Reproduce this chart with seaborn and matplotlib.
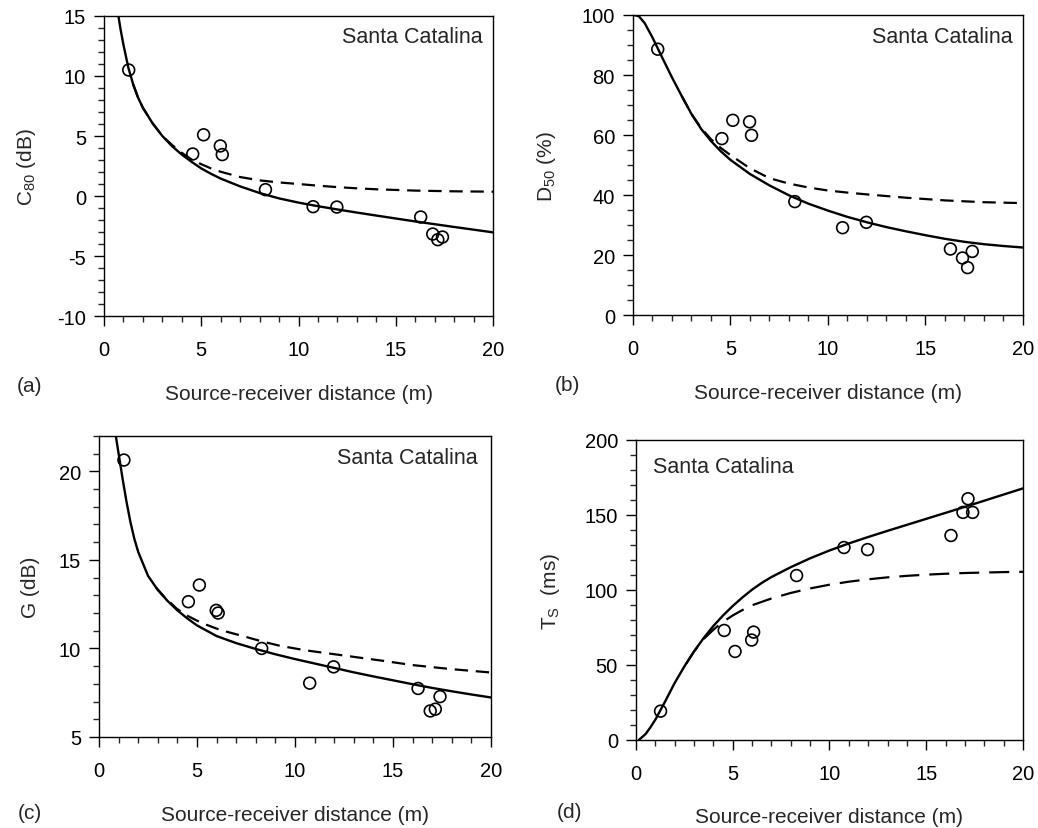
import matplotlib
matplotlib.use('Agg')
import matplotlib.pyplot as plt
from matplotlib.ticker import MultipleLocator
import seaborn as sns

# Measured points (same receiver positions in every panel)
dist = [1.27, 4.56, 5.12, 5.98, 6.08, 8.3, 10.75, 11.97, 16.28, 16.9, 17.16, 17.4]
c80_meas = [10.5, 3.5, 5.1, 4.17, 3.45, 0.53, -0.89, -0.92, -1.75, -3.17, -3.64, -3.42]
d50_meas = [88.6, 58.8, 64.9, 64.4, 59.9, 37.8, 29.1, 30.9, 22.0, 19.0, 15.8, 21.2]
g_meas = [20.64, 12.64, 13.58, 12.15, 12.0, 10.0, 8.04, 8.96, 7.74, 6.47, 6.57, 7.28]
ts_meas = [19.2, 73.0, 59.0, 66.6, 71.9, 109.6, 128.3, 126.9, 136.3, 151.7, 160.8, 151.7]

# Model curves (solid and dashed)
c80_sol_x = [0.72, 0.85, 1.0, 1.25, 1.5, 1.75, 2.0, 2.5, 3.0, 3.5, 4.0, 4.5, 5.0, 5.5, 6.0,
             7.0, 8.0, 9.0, 10.0, 11.0, 12.0, 13.0, 14.0, 16.0, 18.0, 20.0]
c80_sol_y = [15.2, 13.9, 12.6, 10.7, 9.3, 8.2, 7.35, 6.05, 5.0, 4.15, 3.45, 2.85, 2.3, 1.85, 1.45,
             0.8, 0.25, -0.2, -0.55, -0.85, -1.12, -1.38, -1.63, -2.12, -2.58, -3.03]
c80_dash_x = [1.5, 1.75, 2.0, 2.5, 3.0, 3.5, 4.0, 4.5, 5.0, 5.5, 6.0, 7.0, 8.0, 9.0, 10.0,
              11.0, 12.0, 13.0, 14.0, 16.0, 18.0, 20.0]
c80_dash_y = [9.3, 8.2, 7.35, 6.05, 5.0, 4.25, 3.6, 3.05, 2.65, 2.3, 2.02, 1.58, 1.3, 1.13, 1.0,
              0.86, 0.74, 0.64, 0.56, 0.45, 0.39, 0.36]

d50_sol_x = [0.05, 0.3, 0.6, 1.0, 1.5, 2.0, 2.5, 3.0, 3.5, 4.0, 4.5, 5.0, 6.0, 7.0, 8.0, 9.0,
             10.0, 11.0, 12.0, 13.0, 14.0, 15.0, 16.0, 17.0, 18.0, 19.0, 20.0]
d50_sol_y = [100.0, 99.6, 97.3, 92.5, 85.8, 79.2, 73.0, 67.0, 62.0, 58.0, 54.6, 51.7, 47.0, 43.2,
             39.9, 37.1, 34.8, 32.7, 30.9, 29.3, 27.9, 26.6, 25.4, 24.4, 23.6, 23.0, 22.5]
d50_dash_x = [2.5, 3.0, 3.5, 4.0, 4.5, 5.0, 6.0, 7.0, 8.0, 9.0, 10.0, 11.0, 12.0, 14.0, 16.0, 18.0, 20.0]
d50_dash_y = [73.0, 67.0, 62.3, 58.6, 55.7, 53.3, 48.9, 45.6, 43.8, 42.5, 41.5, 40.8, 40.2, 39.1,
              38.2, 37.6, 37.3]

g_sol_x = [0.85, 1.0, 1.2, 1.4, 1.6, 1.8, 2.0, 2.5, 3.0, 3.5, 4.0, 4.5, 5.0, 6.0, 7.0, 8.0, 9.0,
           10.0, 11.0, 12.0, 13.0, 14.0, 15.0, 16.0, 17.0, 18.0, 19.0, 20.0]
g_sol_y = [22.05, 21.0, 19.6, 18.3, 17.15, 16.2, 15.45, 14.1, 13.3, 12.68, 12.15, 11.7, 11.3, 10.7,
           10.3, 9.97, 9.67, 9.4, 9.15, 8.9, 8.65, 8.42, 8.2, 7.98, 7.77, 7.58, 7.4, 7.23]
g_dash_x = [2.9, 3.3, 3.96, 4.5, 5.0, 5.5, 6.0, 6.5, 7.5, 8.3, 9.23, 10.5, 12.63, 14.5, 16.0, 18.0, 20.0]
g_dash_y = [13.45, 12.95, 12.25, 11.85, 11.57, 11.33, 11.12, 10.95, 10.65, 10.4, 10.15, 9.9, 9.58,
            9.3, 9.06, 8.83, 8.64]

ts_sol_x = [0.15, 0.5, 0.75, 1.0, 1.25, 1.5, 2.0, 2.5, 3.0, 3.5, 4.0, 4.5, 5.0, 5.5, 6.0, 6.5, 7.0,
            8.0, 9.0, 10.0, 11.0, 12.0, 13.0, 14.0, 15.0, 16.0, 17.0, 18.0, 19.0, 20.0]
ts_sol_y = [0.0, 4.0, 8.5, 13.5, 19.5, 25.5, 38.0, 49.0, 59.0, 68.0, 76.0, 83.0, 89.3, 95.0, 100.2,
            104.7, 108.6, 115.2, 121.1, 126.3, 131.0, 135.3, 139.4, 143.4, 147.4, 151.4, 155.4,
            159.5, 163.6, 167.7]
ts_dash_x = [2.6, 3.0, 3.5, 4.0, 4.5, 5.0, 5.5, 6.0, 7.0, 8.0, 9.0, 10.0, 11.0, 12.0, 13.0, 14.0,
             15.0, 16.0, 17.0, 18.0, 19.0, 20.0]
ts_dash_y = [51.0, 59.0, 67.3, 73.5, 78.8, 83.0, 86.6, 89.8, 94.3, 98.0, 101.0, 103.5, 105.5, 107.1,
             108.4, 109.4, 110.2, 110.8, 111.3, 111.6, 111.9, 112.1]

sns.set_theme(style='ticks')
plt.rcParams['font.family'] = ['Liberation Sans', 'DejaVu Sans']
plt.rcParams['mathtext.fontset'] = 'custom'
plt.rcParams['mathtext.rm'] = 'Liberation Sans'
plt.rcParams['axes.unicode_minus'] = False
plt.rcParams['axes.linewidth'] = 1.0
plt.rcParams['axes.edgecolor'] = 'black'

fig = plt.figure(figsize=(10.38, 8.29), dpi=100)

panels = [
    dict(rect=[0.1002, 0.6176, 0.3748, 0.3619], meas=c80_meas,
         sol=(c80_sol_x, c80_sol_y), dash=(c80_dash_x, c80_dash_y),
         ylim=(-10, 15), major=5, minor=1, ylabel='C$_\\mathregular{80}$ (dB)', ylx=-0.17,
         letter='(a)', lxy=(-0.224, -0.233), txy=(0.974, 0.93), ha='right', pat=(6, 3.5)),
    dict(rect=[0.6098, 0.6188, 0.3757, 0.3619], meas=d50_meas,
         sol=(d50_sol_x, d50_sol_y), dash=(d50_dash_x, d50_dash_y),
         ylim=(0, 100), major=20, minor=5, ylabel='D$_\\mathregular{50}$ (%)', ylx=-0.193,
         letter='(b)', lxy=(-0.2, -0.233), txy=(0.974, 0.927), ha='right', pat=(6, 3.5)),
    dict(rect=[0.0954, 0.1098, 0.3776, 0.3631], meas=g_meas,
         sol=(g_sol_x, g_sol_y), dash=(g_dash_x, g_dash_y),
         ylim=(5, 22), major=5, minor=1, ylabel='G (dB)', ylx=-0.15,
         letter='(c)', lxy=(-0.207, -0.252), txy=(0.967, 0.93), ha='right', pat=(6, 3.5)),
    dict(rect=[0.6127, 0.1062, 0.3728, 0.3619], meas=ts_meas,
         sol=(ts_sol_x, ts_sol_y), dash=(ts_dash_x, ts_dash_y),
         ylim=(0, 200), major=50, minor=10, ylabel='T$_\\mathregular{S}$  (ms)', ylx=-0.19,
         letter='(d)', lxy=(-0.204, -0.237), txy=(0.044, 0.91), ha='left', pat=(9, 4.5)),
]

for p in panels:
    ax = fig.add_axes(p['rect'])
    sns.lineplot(x=p['sol'][0], y=p['sol'][1], ax=ax, color='black', linewidth=1.7, sort=False)
    sns.lineplot(x=p['dash'][0], y=p['dash'][1], ax=ax, color='black', linewidth=1.6,
                 linestyle=(0, p['pat']), sort=False)
    sns.scatterplot(x=dist, y=p['meas'], ax=ax, color='black', facecolor='none',
                    edgecolor='black', linewidth=1.2, s=72, zorder=3)

    ax.set_xlim(0, 20)
    ax.set_ylim(*p['ylim'])
    ax.xaxis.set_major_locator(MultipleLocator(5))
    ax.xaxis.set_minor_locator(MultipleLocator(1))
    ax.yaxis.set_major_locator(MultipleLocator(p['major']))
    ax.yaxis.set_minor_locator(MultipleLocator(p['minor']))
    ax.tick_params(which='major', direction='out', length=7, width=1.0, labelsize=14.5, colors='black')
    ax.tick_params(which='minor', direction='out', length=4, width=1.0)
    ax.tick_params(axis='x', which='major', pad=10)
    ax.tick_params(axis='y', which='major', pad=6)
    for s in ax.spines.values():
        s.set_visible(True)
        s.set_color('black')

    ax.set_xlabel('Source-receiver distance (m)', fontsize=15)
    ax.xaxis.set_label_coords(0.5, -0.225)
    ax.set_ylabel(p['ylabel'], fontsize=15)
    ax.yaxis.set_label_coords(p['ylx'], 0.5)
    ax.text(p['lxy'][0], p['lxy'][1], p['letter'], transform=ax.transAxes,
            fontsize=15, ha='left', va='center')
    ax.text(p['txy'][0], p['txy'][1], 'Santa Catalina', transform=ax.transAxes,
            fontsize=15.5, ha=p['ha'], va='center')

fig.savefig('out.png', dpi=100)
